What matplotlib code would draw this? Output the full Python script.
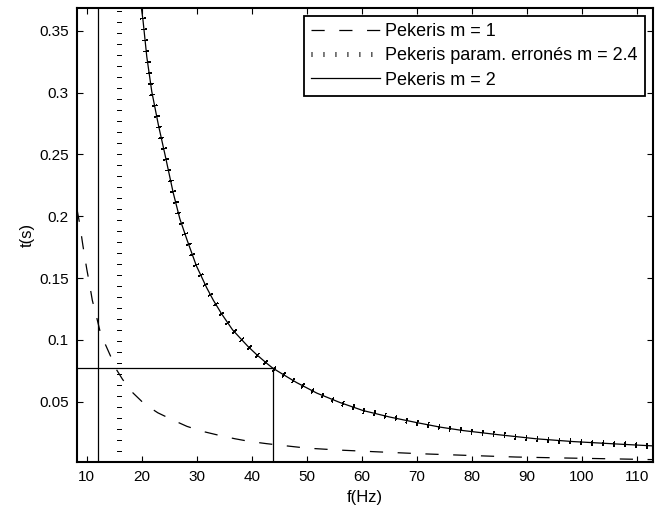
import matplotlib
matplotlib.use("Agg")
import matplotlib.pyplot as plt

plt.rcParams['font.family'] = ['Liberation Sans', 'DejaVu Sans']
plt.rcParams['lines.scale_dashes'] = False

# courbe m = 1
f_m1 = [8.2, 8.7, 9.3, 10.0, 10.5, 11.0, 11.8, 12.4, 13.1, 13.8, 14.5, 15.1, 16.5,
        18.4, 20.5, 22.9, 25.7, 28.2, 31.0, 33.8, 36.9, 39.6, 42.7, 45.1, 50.0,
        56.0, 63.3, 71.0, 80.0, 88.0, 97.0, 106.0, 112.9]
t_m1 = [0.206, 0.194, 0.176, 0.157, 0.145, 0.132, 0.118, 0.107, 0.099, 0.092, 0.085,
        0.078, 0.068, 0.057, 0.048, 0.041, 0.035, 0.030, 0.026, 0.023, 0.020, 0.0178,
        0.016, 0.0148, 0.0124, 0.0108, 0.0093, 0.0078, 0.0064, 0.0052, 0.0044,
        0.0037, 0.0031]

# courbe m = 2
f_m2 = [19.9, 20.2, 20.9, 21.8, 23.0, 23.6, 24.2, 25.7, 26.9, 28.2, 29.9, 31.8, 33.0,
        34.5, 36.5, 39.3, 40.9, 42.7, 43.8, 46.3, 48.1, 51.8, 56.0, 60.2, 65.1,
        69.9, 74.2, 78.4, 85.1, 91.8, 98.4, 106.9, 112.9]
t_m2 = [0.369, 0.359, 0.329, 0.301, 0.274, 0.262, 0.250, 0.219, 0.198, 0.181, 0.160,
        0.142, 0.132, 0.121, 0.108, 0.0946, 0.0879, 0.081, 0.0771, 0.0703, 0.0655,
        0.0569, 0.0493, 0.0428, 0.0375, 0.0331, 0.0294, 0.0266, 0.0231, 0.0199,
        0.0177, 0.0156, 0.0142]

# param. erronés m = 2.4 : confondue avec m = 2 sur la figure
f_m24 = list(f_m2)
t_m24 = list(t_m2)

# fréquences de coupure
fc_m2 = 12.06
fc_m24 = 15.8

# repère : t = 0.0771 s, f = 43.8 Hz
t_ref = 0.0771
f_ref = 43.8

xlim = (8.2, 112.9)
ylim = (0.0012, 0.3686)
xticks = [10, 20, 30, 40, 50, 60, 70, 80, 90, 100, 110]
yticks = [0.05, 0.1, 0.15, 0.2, 0.25, 0.3, 0.35]
ytick_labels = ["0.05", "0.1", "0.15", "0.2", "0.25", "0.3", "0.35"]

fig = plt.figure(figsize=(6.63, 5.08), dpi=100)
ax = fig.add_axes([0.116, 0.0906, 0.869, 0.894])

dotted = (0, (0.72, 7.9))

l1, = ax.plot(f_m1, t_m1, color="black", lw=0.9, linestyle=(0, (9.5, 10.5)),
              label="Pekeris m = 1")
l2, = ax.plot(f_m24, t_m24, color="black", lw=3.6, linestyle=dotted,
              dash_capstyle="butt", antialiased=False,
              label="Pekeris param. erronés m = 2.4")
l3, = ax.plot(f_m2, t_m2, color="black", lw=0.9, label="Pekeris m = 2")

ax.plot([fc_m2, fc_m2], ylim, color="black", lw=0.9)
ax.plot([fc_m24, fc_m24], ylim, color="black", lw=3.6, linestyle=dotted,
        dash_capstyle="butt", antialiased=False)
ax.plot([xlim[0], f_ref], [t_ref, t_ref], color="black", lw=0.9)
ax.plot([f_ref, f_ref], [ylim[0], t_ref], color="black", lw=0.9)

ax.set_xlim(*xlim)
ax.set_ylim(*ylim)
ax.set_xticks(xticks)
ax.set_yticks(yticks)
ax.set_yticklabels(ytick_labels)
ax.tick_params(direction="in", length=4, width=0.8, labelsize=11,
               top=True, right=True, pad=6)
for s in ax.spines.values():
    s.set_linewidth(1.5)

ax.set_xlabel("f(Hz)", fontsize=12, labelpad=4)
ax.set_ylabel("t(s)", fontsize=12, labelpad=3)

leg = ax.legend(handles=[l1, l2, l3], loc="upper right", fontsize=13,
                fancybox=False, framealpha=1, edgecolor="black",
                handlelength=3.8, handletextpad=0.3, labelspacing=0.4,
                borderpad=0.4, borderaxespad=0.45)
leg.get_frame().set_linewidth(1.3)

fig.savefig("out.png", dpi=100)
